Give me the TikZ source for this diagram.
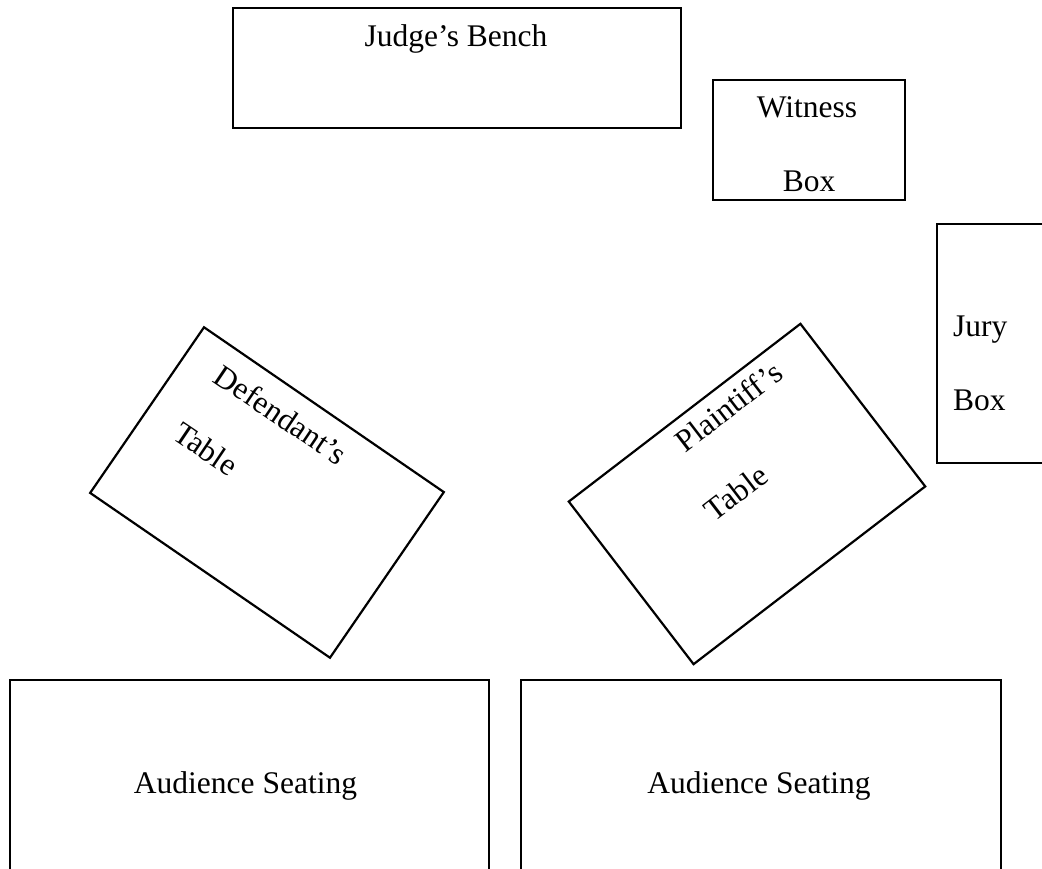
\documentclass[tikz,border=0pt]{standalone}
\usepackage{fontspec}
\setmainfont{Liberation Serif}
\begin{document}
\begin{tikzpicture}[x=1pt,y=-1pt,
  furniture/.style={draw=black, line width=2.2pt, inner sep=0pt, outer sep=0pt},
  lbl/.style={inner sep=0pt, font=\fontsize{31.5}{36}\selectfont}]
\useasboundingbox (0,0) rectangle (1042,869);
\clip (0,0) rectangle (1042,869);
% boxes
\node[furniture, minimum width=448pt, minimum height=120pt] (judge) at (457,68) {};
\node[furniture, minimum width=192pt, minimum height=120pt] (witness) at (809,140) {};
\node[furniture, minimum width=163pt, minimum height=239pt] (jury) at (1018.5,343.5) {};
\node[furniture, minimum width=291pt, minimum height=201pt, rotate=-34.5] (deftable) at (267,492.5) {};
\node[furniture, minimum width=292pt, minimum height=205pt, rotate=37.5] (plaintable) at (747,494) {};
\node[furniture, minimum width=479pt, minimum height=260pt] (audleft) at (249.5,810) {};
\node[furniture, minimum width=480pt, minimum height=260pt] (audright) at (761,810) {};
% labels
\node[lbl, anchor=base] (tjudge) at (456,47) {Judge’s Bench};
\node[lbl, anchor=base] (twit1) at (807,118) {Witness};
\node[lbl, anchor=base] (twit2) at (809,192) {Box};
\node[lbl, anchor=base west] (tjury1) at (953,336) {Jury};
\node[lbl, anchor=base west] (tjury2) at (953,410) {Box};
\node[lbl, anchor=base west, rotate=-34] (tdef1) at (211.5,381) {Defendant’s};
\node[lbl, anchor=base west, rotate=-34] (tdef2) at (171,438) {Table};
\node[lbl, anchor=base, rotate=37.5] (tpl1) at (735,415) {Plaintiff’s};
\node[lbl, anchor=base, rotate=37.5] (tpl2) at (742.5,501) {Table};
\node[lbl, anchor=base] (taud1) at (245.5,793) {Audience Seating};
\node[lbl, anchor=base] (taud2) at (759,793) {Audience Seating};
\end{tikzpicture}
\end{document}
